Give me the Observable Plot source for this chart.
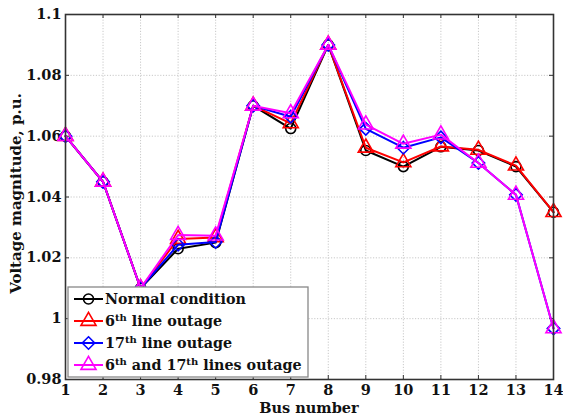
<!DOCTYPE html>
<html>
<head>
<meta charset="utf-8">
<script src="https://cdn.jsdelivr.net/npm/d3@7"></script>
<script src="https://cdn.jsdelivr.net/npm/@observablehq/plot@0.6"></script>
<style>
  html, body { margin: 0; padding: 0; background: #fff; }
  svg { display: block; }
</style>
</head>
<body>
<div id="chart"></div>
<script>
const buses = [1, 2, 3, 4, 5, 6, 7, 8, 9, 10, 11, 12, 13, 14];
const normal = [1.06, 1.045, 1.01, 1.023, 1.025, 1.07, 1.0625, 1.09, 1.0553, 1.050, 1.0565, 1.0553, 1.050, 1.035];
const line6 = [1.06, 1.045, 1.01, 1.0262, 1.0267, 1.07, 1.0642, 1.09, 1.0562, 1.0514, 1.0566, 1.0555, 1.0503, 1.035];
const line17 = [1.06, 1.045, 1.01, 1.0243, 1.0252, 1.07, 1.0664, 1.09, 1.0624, 1.0562, 1.0596, 1.0512, 1.0407, 0.9968];
const both = [1.06, 1.045, 1.01, 1.0275, 1.0273, 1.07, 1.0675, 1.09, 1.0638, 1.0575, 1.0605, 1.0512, 1.0407, 0.9968];

const yTicks = [0.98, 1, 1.02, 1.04, 1.06, 1.08, 1.1];
const xTicks = buses;

const series = [
  {name: "Normal condition", values: normal, color: "#000000", symbol: "circle", label: [["Normal condition", false]]},
  {name: "6th line outage", values: line6, color: "#ff0000", symbol: "triangle", label: [["6", false], ["th", true], [" line outage", false]]},
  {name: "17th line outage", values: line17, color: "#0000ff", symbol: "diamond2", label: [["17", false], ["th", true], [" line outage", false]]},
  {name: "6th and 17th lines outage", values: both, color: "#ff00ff", symbol: "triangle", label: [["6", false], ["th", true], [" and 17", false], ["th", true], [" lines outage", false]]}
];

const W = 563, H = 416;
const mL = 65, mR = 10, mT = 14, mB = 37;
const pw = W - mL - mR, ph = H - mT - mB;
const font = "'DejaVu Serif', serif";

const marks = [
  Plot.gridX(xTicks, {stroke: "#c8c8c8", strokeOpacity: 1, strokeDasharray: "1.2,1.6"}),
  Plot.gridY(yTicks, {stroke: "#c8c8c8", strokeOpacity: 1, strokeDasharray: "1.2,1.6"}),
  Plot.tickX(xTicks, {x: d => d, stroke: "#333", strokeWidth: 1, insetTop: ph - 4}),
  Plot.tickX(xTicks, {x: d => d, stroke: "#333", strokeWidth: 1, insetBottom: ph - 4}),
  Plot.tickY(yTicks, {y: d => d, stroke: "#333", strokeWidth: 1, insetRight: pw - 4}),
  Plot.tickY(yTicks, {y: d => d, stroke: "#333", strokeWidth: 1, insetLeft: pw - 4}),
  Plot.axisX(xTicks, {tickSize: 0, tickPadding: 5, fontSize: 14.5, tickFormat: d => String(d), label: null}),
  Plot.axisY(yTicks, {tickSize: 0, tickPadding: 4, fontSize: 14.5, tickFormat: d => String(+d.toFixed(2)), label: null})
];
for (const s of series) {
  const data = buses.map((b, i) => ({bus: b, v: s.values[i]}));
  marks.push(Plot.line(data, {x: "bus", y: "v", stroke: s.color, strokeWidth: 2}));
  marks.push(Plot.dot(data, {x: "bus", y: "v", stroke: s.color, strokeWidth: 1.6, fill: "none", symbol: () => s.symbol, r: s.symbol === "circle" ? 5 : 5.6}));
}
marks.push(Plot.frame({stroke: "#333", strokeWidth: 1.6}));

const chart = Plot.plot({
  width: W, height: H,
  marginLeft: mL, marginRight: mR, marginTop: mT, marginBottom: mB,
  x: {domain: [1, 14]},
  y: {domain: [0.98, 1.1]},
  style: {fontFamily: font, fontWeight: "bold", color: "#111", background: "#fff"},
  marks
});
document.getElementById("chart").appendChild(chart);

const svg = d3.select(chart);
// axis titles
svg.append("text").attr("x", mL + pw / 2).attr("y", 413).attr("text-anchor", "middle")
  .attr("font-family", font).attr("font-weight", "bold").attr("font-size", 14.5).attr("fill", "#111")
  .text("Bus number");
svg.append("text").attr("transform", `translate(21,${mT + ph / 2 - 3}) rotate(-90)`).attr("text-anchor", "middle")
  .attr("font-family", font).attr("font-weight", "bold").attr("font-size", 15).attr("fill", "#111")
  .text("Voltage magnitude, p.u.");

// legend
const lg = svg.append("g").attr("text-anchor", "start");
const lx = 68, ly = 287, lw = 240, lh = 90;
lg.append("rect").attr("x", lx).attr("y", ly).attr("width", lw).attr("height", lh)
  .attr("fill", "#fff").attr("stroke", "#888").attr("stroke-width", 1.3);
const symMap = {circle: d3.symbolCircle, triangle: d3.symbolTriangle, diamond2: d3.symbolDiamond2};
series.forEach((s, i) => {
  const cy = 299 + i * 22;
  lg.append("line").attr("x1", 74).attr("x2", 103).attr("y1", cy).attr("y2", cy)
    .attr("stroke", s.color).attr("stroke-width", 2);
  const r = s.symbol === "circle" ? 5 : 5.6;
  lg.append("path").attr("transform", `translate(88.5,${cy})`)
    .attr("d", d3.symbol(symMap[s.symbol], Math.PI * r * r)())
    .attr("fill", "none").attr("stroke", s.color).attr("stroke-width", 1.6);
  const t = lg.append("text").attr("x", 105).attr("y", cy + 5).attr("text-anchor", "start")
    .attr("font-family", font).attr("font-weight", "bold").attr("font-size", 14.3).attr("fill", "#111");
  let prevSup = false;
  for (const [str, sup] of s.label) {
    const ts = t.append("tspan").text(str);
    if (sup) ts.attr("font-size", 10).attr("dy", -5.5);
    else if (prevSup) ts.attr("dy", 5.5);
    prevSup = sup;
  }
});
</script>
</body>
</html>
